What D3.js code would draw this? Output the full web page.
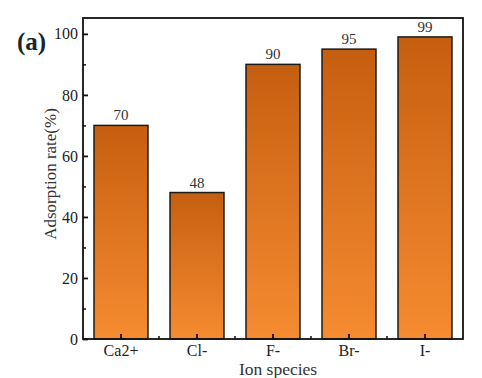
<!DOCTYPE html>
<html><head><meta charset="utf-8">
<script src="https://cdn.jsdelivr.net/npm/d3@7"></script>
<style>body{margin:0;background:#fff}</style>
</head><body>
<svg id="c" width="482" height="378"></svg>
<script>
const categories = ["Ca2+", "Cl-", "F-", "Br-", "I-"];
const values = [70, 48, 90, 95, 99];
const yTicks = [0, 20, 40, 60, 80, 100];
const yMinorTicks = [10, 30, 50, 70, 90];

const svg = d3.select("#c");
const m = {l: 83, r: 19, t: 18, b: 39};
const W = 482, H = 378;
const x = d3.scaleBand().domain(categories).range([m.l, W - m.r]).paddingInner(0.29).paddingOuter(0.145);
const y = d3.scaleLinear().domain([0, 105.2]).range([H - m.b, m.t]);
const font = "'Liberation Serif','Times New Roman',serif";

const defs = svg.append("defs");
const g = defs.append("linearGradient").attr("id", "grad").attr("x1", 0).attr("y1", 0).attr("x2", 0).attr("y2", 1);
g.append("stop").attr("offset", "0%").attr("stop-color", "#c55f10");
g.append("stop").attr("offset", "100%").attr("stop-color", "#f68b30");

svg.selectAll("rect.bar").data(values).enter().append("rect")
  .attr("class", "bar")
  .attr("x", (d, i) => x(categories[i]))
  .attr("y", d => y(d))
  .attr("width", x.bandwidth())
  .attr("height", d => y(0) - y(d))
  .attr("fill", "url(#grad)")
  .attr("stroke", "#1a1a1a").attr("stroke-width", 1.5);

svg.selectAll("text.val").data(values).enter().append("text")
  .attr("x", (d, i) => x(categories[i]) + x.bandwidth() / 2)
  .attr("y", d => y(d) - 5)
  .attr("text-anchor", "middle")
  .attr("font-family", font).attr("font-size", 15).attr("fill", "#333")
  .text(d => d);

// frame
svg.append("rect").attr("x", m.l).attr("y", m.t).attr("width", W - m.l - m.r).attr("height", H - m.t - m.b)
  .attr("fill", "none").attr("stroke", "#111").attr("stroke-width", 1.8);

// y axis
const ya = svg.append("g").attr("transform", `translate(${m.l},0)`)
  .call(d3.axisLeft(y).tickValues(yTicks).tickSize(-5).tickPadding(5));
ya.select(".domain").remove();
ya.selectAll("line").attr("stroke", "#111").attr("stroke-width", 1.8);
ya.selectAll("text").attr("font-family", font).attr("font-size", 16).attr("fill", "#222");
svg.append("g").attr("transform", `translate(${m.l},0)`)
  .call(d3.axisLeft(y).tickValues(yMinorTicks).tickSize(-3).tickFormat(""))
  .call(s => s.select(".domain").remove())
  .selectAll("line").attr("stroke", "#111").attr("stroke-width", 1.5);

// x axis
const xa = svg.append("g").attr("transform", `translate(0,${H - m.b})`)
  .call(d3.axisBottom(x).tickSize(-5).tickPadding(6));
xa.select(".domain").remove();
xa.selectAll("line").attr("stroke", "#111").attr("stroke-width", 1.8);
xa.selectAll("text").attr("font-family", font).attr("font-size", 16).attr("fill", "#222");
const step = x.step();
const minorX = categories.slice(0, -1).map(c => x(c) + x.bandwidth() / 2 + step / 2);
svg.append("g").selectAll("line").data(minorX).enter().append("line")
  .attr("x1", d => d).attr("x2", d => d).attr("y1", H - m.b).attr("y2", H - m.b - 3)
  .attr("stroke", "#111").attr("stroke-width", 1.5);

// titles
svg.append("text").attr("transform", `translate(56,174) rotate(-90)`)
  .attr("text-anchor", "middle").attr("font-family", font).attr("font-size", 17).attr("fill", "#333")
  .text("Adsorption rate(%)");
svg.append("text").attr("x", 278).attr("y", 375).attr("text-anchor", "middle")
  .attr("font-family", font).attr("font-size", 17.5).attr("fill", "#333").text("Ion species");
svg.append("text").attr("x", 17).attr("y", 50)
  .attr("font-family", font).attr("font-size", 25).attr("font-weight", "bold").attr("fill", "#1a2430").text("(a)");
</script>
</body></html>
